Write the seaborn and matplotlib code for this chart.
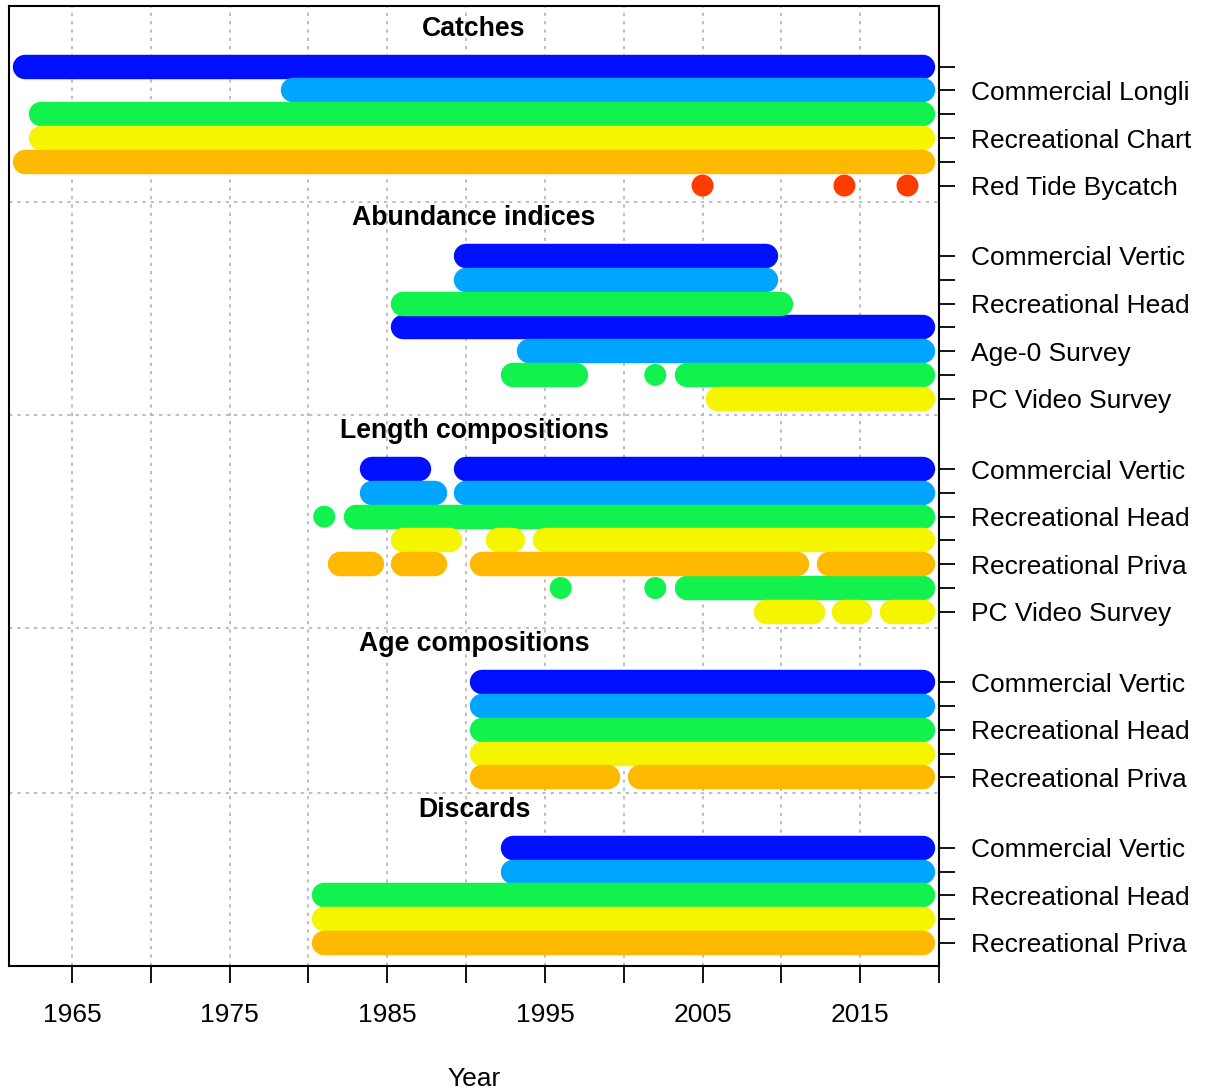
import numpy as np
import pandas as pd
import seaborn as sns
import matplotlib.pyplot as plt
import matplotlib.transforms as mtransforms

# fleet colours (recycled after 6 fleets)
fleet_colors = ["#0010FF", "#00A5FF", "#12F24E", "#F5F500", "#FFB900", "#FF3C00"]

block_titles = ["Catches", "Abundance indices", "Length compositions",
                "Age compositions", "Discards"]

# fleet names as far as they show at the right edge of the figure
catch_fleets = ["Commercial Vertic", "Commercial Longli", "Recreational Head",
                "Recreational Chart", "Recreational Priva", "Red Tide Bycatch"]
catch_cols = [0, 1, 2, 3, 4, 5]
catch_years = [[(1962, 2019)], [(1979, 2019)], [(1963, 2019)], [(1963, 2019)],
               [(1962, 2019)], [(2005, 2005), (2014, 2014), (2018, 2018)]]

index_fleets = ["Commercial Vertic", "Commercial Longli", "Recreational Head",
                "SEAMAP Video", "Age-0 Survey", "NMFS Bottom Long", "PC Video Survey"]
index_cols = [0, 1, 2, 0, 1, 2, 3]
index_years = [[(1990, 2009)], [(1990, 2009)], [(1986, 2010)], [(1986, 2019)], [(1994, 2019)],
               [(1993, 1997), (2002, 2002), (2004, 2019)], [(2006, 2019)]]

length_fleets = ["Commercial Vertic", "Commercial Longli", "Recreational Head",
                 "Recreational Chart", "Recreational Priva", "NMFS Bottom Long",
                 "PC Video Survey"]
length_cols = [0, 1, 2, 3, 4, 2, 3]
length_years = [[(1984, 1987), (1990, 2019)],
                [(1984, 1988), (1990, 2019)],
                [(1981, 1981), (1983, 2019)],
                [(1986, 1989), (1992, 1993), (1995, 2019)],
                [(1982, 1984), (1986, 1988), (1991, 2011), (2013, 2019)],
                [(1996, 1996), (2002, 2002), (2004, 2019)],
                [(2009, 2012), (2014, 2015), (2017, 2019)]]

age_fleets = ["Commercial Vertic", "Commercial Longli", "Recreational Head",
              "Recreational Chart", "Recreational Priva"]
age_cols = [0, 1, 2, 3, 4]
age_years = [[(1991, 2019)], [(1991, 2019)], [(1991, 2019)], [(1991, 2019)],
             [(1991, 1999), (2001, 2019)]]

disc_fleets = ["Commercial Vertic", "Commercial Longli", "Recreational Head",
               "Recreational Chart", "Recreational Priva"]
disc_cols = [0, 1, 2, 3, 4]
disc_years = [[(1993, 2019)], [(1993, 2019)], [(1981, 2019)], [(1981, 2019)], [(1981, 2019)]]

blocks = [(catch_fleets, catch_cols, catch_years),
          (index_fleets, index_cols, index_years),
          (length_fleets, length_cols, length_years),
          (age_fleets, age_cols, age_years),
          (disc_fleets, disc_cols, disc_years)]

# layout, in row units counted down from the top of the box
title_y, row_y, row_name, seps = [], [], [], []
seg_rows, dot_rows = [], []
y = 0.95
seg = 0
for b, (names, cols, years) in enumerate(blocks):
    title_y.append(y)
    y += 1.6
    for name, c, yrs in zip(names, cols, years):
        row_y.append(y)
        row_name.append(name)
        for (y0, y1) in yrs:
            if y0 == y1:
                dot_rows.append({"year": y0, "y": y, "color": fleet_colors[c]})
            else:
                for yr in range(y0, y1 + 1):
                    seg_rows.append({"year": yr, "y": y, "color": fleet_colors[c], "seg": seg})
                seg += 1
        y += 1
    y -= 1
    if b < len(blocks) - 1:
        seps.append(y + 0.67)
        y += 1.36
y_bottom = y + 0.97

seg_df = pd.DataFrame(seg_rows)
dot_df = pd.DataFrame(dot_rows)
pal = {c: c for c in fleet_colors}

sns.set_style("white")
plt.rcParams["font.family"] = ["Liberation Sans", "DejaVu Sans"]
plt.rcParams["text.color"] = "black"

fig = plt.figure(figsize=(12.05, 10.9), dpi=100)
ax = fig.add_axes([9 / 1205, 124 / 1090, 930 / 1205, 960 / 1090])

grid_kw = dict(color="#B4B4B4", ls=(0, (2, 3)), lw=1.2, zorder=0)
for yr in range(1965, 2020, 5):
    ax.axvline(yr, **grid_kw)
for s in seps:
    ax.axhline(s, **grid_kw)

sns.lineplot(data=seg_df, x="year", y="y", hue="color", palette=pal, units="seg",
             estimator=None, linewidth=17.6, solid_capstyle="round", legend=False,
             sort=False, ax=ax, zorder=2)
sns.scatterplot(data=dot_df, x="year", y="y", hue="color", palette=pal, s=250,
                linewidth=0, legend=False, ax=ax, zorder=3)

ax.set_xlim(1961, 2020)
ax.set_ylim(y_bottom, 0)
ax.set_xlabel("")
ax.set_ylabel("")

xt = list(range(1965, 2021, 5))
ax.set_xticks(xt)
ax.set_xticklabels([str(t) if (t - 1965) % 10 == 0 else "" for t in xt])
ax.tick_params(axis="x", direction="out", length=12, width=1.3, pad=15,
               labelsize=19, colors="black", bottom=True)

ax.yaxis.tick_right()
ax.set_yticks(row_y)
ax.set_yticklabels([])
ax.tick_params(axis="y", direction="out", length=11.5, width=1.3, right=True, colors="black")

for sp in ax.spines.values():
    sp.set_color("black")
    sp.set_linewidth(1.5)

trans_t = mtransforms.blended_transform_factory(ax.transAxes, ax.transData)
for t, ty in zip(block_titles, title_y):
    ax.text(0.5, ty, t, transform=trans_t, ha="center", va="center",
            fontsize=19.2, fontweight="bold", color="black")

# fleet names on the right, skipping labels that would overlap (bottom up)
trans_l = trans_t + mtransforms.ScaledTranslation(32 / 100, -2.5 / 100, fig.dpi_scale_trans)
last = None
for name, ry in sorted(zip(row_name, row_y), key=lambda p: -p[1]):
    if last is not None and last - ry < 1.5:
        continue
    ax.text(1.0, ry, name, transform=trans_l, ha="left", va="center",
            fontsize=19, color="black", clip_on=False)
    last = ry

fig.text(474 / 1205, 4 / 1090, "Year", ha="center", va="baseline", fontsize=19,
         color="black")

fig.savefig("out.png", dpi=100)
